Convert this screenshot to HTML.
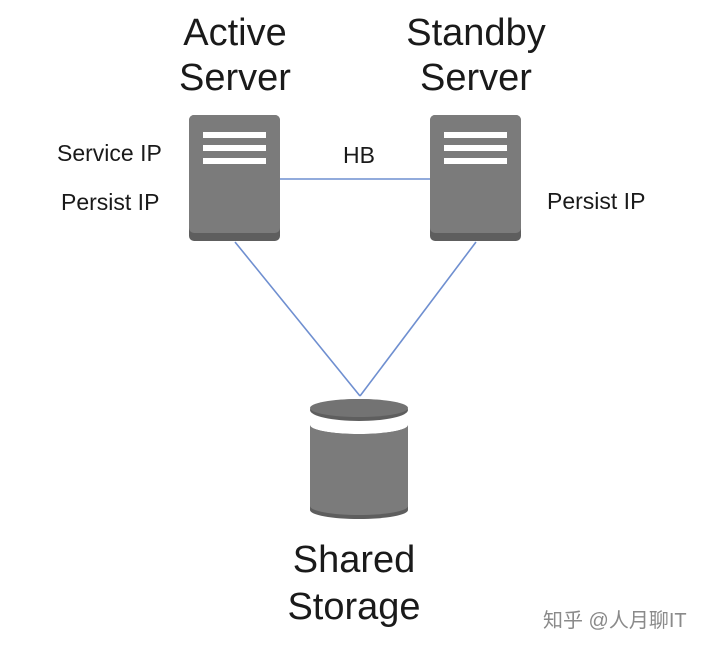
<!DOCTYPE html>
<html><head><meta charset="utf-8"><style>
html,body{margin:0;padding:0;background:#fff;}
body{width:709px;height:645px;position:relative;overflow:hidden;font-family:"Liberation Sans","Noto Sans CJK SC",sans-serif;color:#1a1a1a;}
.t{position:absolute;white-space:nowrap;}
.big{font-size:38px;text-align:center;line-height:45px;}
.sm{font-size:23px;}
</style></head><body>
<svg width="709" height="645" style="position:absolute;left:0;top:0">
<g stroke="#6f8fd0" stroke-width="1.6" fill="none">
<line x1="280" y1="179" x2="430" y2="179"/>
<line x1="235" y1="242" x2="360" y2="396"/>
<line x1="476" y1="242" x2="360" y2="396"/>
</g>
<g>
<rect x="189" y="115" width="91" height="126" rx="5" fill="#5e5e5e"/>
<rect x="189" y="115" width="91" height="118" rx="5" fill="#7b7b7b"/>
<rect x="203" y="132" width="63" height="6" fill="#fff"/>
<rect x="203" y="145" width="63" height="6" fill="#fff"/>
<rect x="203" y="158" width="63" height="6" fill="#fff"/>
<rect x="430" y="115" width="91" height="126" rx="5" fill="#5e5e5e"/>
<rect x="430" y="115" width="91" height="118" rx="5" fill="#7b7b7b"/>
<rect x="444" y="132" width="63" height="6" fill="#fff"/>
<rect x="444" y="145" width="63" height="6" fill="#fff"/>
<rect x="444" y="158" width="63" height="6" fill="#fff"/>
</g>
<g>
<path d="M310 425 L310 510 A49 9 0 0 0 408 510 L408 425 A49 9 0 0 1 310 425 Z" fill="#5e5e5e"/>
<path d="M310 425 L310 506 A49 9 0 0 0 408 506 L408 425 A49 9 0 0 1 310 425 Z" fill="#7b7b7b"/>
<ellipse cx="359" cy="410" rx="49" ry="11" fill="#5e5e5e"/>
<ellipse cx="359" cy="408" rx="49" ry="9" fill="#737373"/>
</g>
</svg>
<div class="t big" style="left:135px;top:11px;width:200px">Active<br>Server</div>
<div class="t big" style="left:376px;top:11px;width:200px">Standby<br>Server</div>
<div class="t sm" style="left:57px;top:140px">Service IP</div>
<div class="t sm" style="left:61px;top:189px">Persist IP</div>
<div class="t sm" style="left:547px;top:188px">Persist IP</div>
<div class="t sm" style="left:343px;top:142px">HB</div>
<div class="t big" style="left:254px;top:537px;width:200px;line-height:47px">Shared<br>Storage</div>
<div class="t" style="left:543px;top:604px;font-size:20px;color:#8a8a8a">知乎 @人月聊IT</div>
</body></html>
